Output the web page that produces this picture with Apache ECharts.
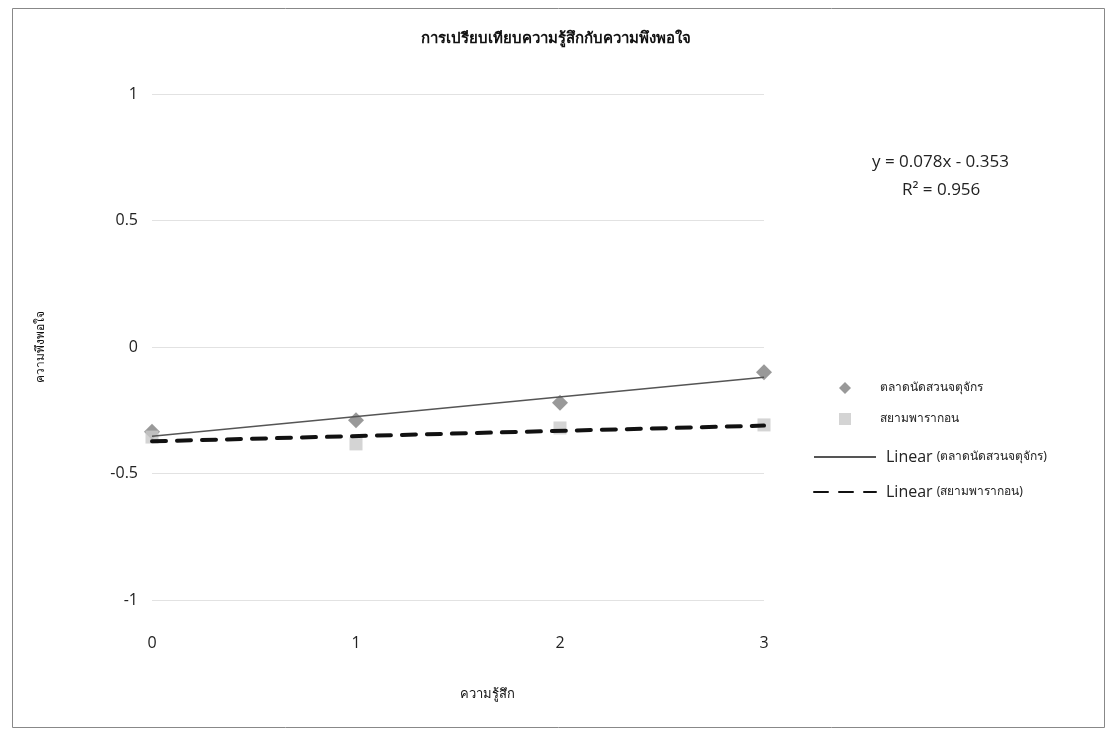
<!DOCTYPE html>
<html><head><meta charset="utf-8">
<script src="https://cdn.jsdelivr.net/npm/echarts@6/dist/echarts.min.js"></script>
<style>html,body{margin:0;padding:0;background:#fff}#c{width:1117px;height:736px}</style>
</head><body><div id="c"></div>
<script>
var xValues = [0, 1, 2, 3];
var chatuchakValues = [-0.335, -0.29, -0.22, -0.10];
var paragonValues = [-0.356, -0.383, -0.32, -0.308];
var yTicks = [-1, -0.5, 0, 0.5, 1];
var nameA = 'ตลาดนัดสวนจตุจักร';
var nameB = 'สยามพารากอน';
var titleText = 'การเปรียบเทียบความรู้สึกกับความพึงพอใจ';
var xName = 'ความรู้สึก';
var yName = 'ความพึงพอใจ';

function fit(xs, ys) {
  var n = xs.length, mx = 0, my = 0;
  for (var i = 0; i < n; i++) { mx += xs[i]; my += ys[i]; }
  mx /= n; my /= n;
  var sxy = 0, sxx = 0;
  for (var i = 0; i < n; i++) { sxy += (xs[i]-mx)*(ys[i]-my); sxx += (xs[i]-mx)*(xs[i]-mx); }
  var b = sxy / sxx, a = my - b*mx;
  return [[xs[0], a + b*xs[0]], [xs[n-1], a + b*xs[n-1]]];
}
function pairs(xs, ys) { return xs.map(function (x, i) { return [x, ys[i]]; }); }

var thai = '"Noto Sans", "DejaVu Sans", sans-serif';
var latin = '"Open Sans", "Noto Sans", sans-serif';

var chart = echarts.init(document.getElementById('c'));
chart.setOption({
  backgroundColor: '#fff',
  animation: false,
  title: {
    text: titleText, left: 551, top: 26, textAlign: 'center',
    textStyle: { fontSize: 15, fontWeight: 'bold', color: '#111', fontFamily: thai }
  },
  graphic: [
    { type: 'rect', shape: { x: 12.5, y: 8.5, width: 1092, height: 719 },
      style: { fill: 'none', stroke: '#888', lineWidth: 1 } },
    { type: 'text', left: 872, top: 154, style: { text: 'y = 0.078x - 0.353', fontSize: 17, fill: '#222', fontFamily: latin } },
    { type: 'text', left: 902, top: 182, style: { text: 'R² = 0.956', fontSize: 17, fill: '#222', fontFamily: latin } }
  ],
  legend: [
    {
      orient: 'vertical', left: 834, top: 377, itemWidth: 12, itemHeight: 12, itemGap: 19,
      data: [
        { name: nameA, icon: 'diamond' },
        { name: nameB, icon: 'rect' }
      ],
      textStyle: { fontSize: 12, color: '#222', fontFamily: thai, padding: [0, 0, 0, 24] }
    },
    {
      orient: 'vertical', left: 808, top: 444, itemWidth: 62, itemHeight: 14, itemGap: 19,
      data: ['Linear (' + nameA + ')', 'Linear (' + nameB + ')'],
      formatter: function (n) { return '{a|Linear }{b|' + n.slice(7) + '}'; },
      textStyle: {
        color: '#222', padding: [0, 0, 0, 5],
        rich: {
          a: { fontSize: 16, fontFamily: latin, color: '#222' },
          b: { fontSize: 12, fontFamily: thai, color: '#222' }
        }
      }
    }
  ],
  grid: { left: 152, top: 94, width: 612, height: 506, containLabel: false },
  xAxis: {
    type: 'value', min: 0, max: 3, interval: 1,
    name: xName, nameLocation: 'middle', nameGap: 88,
    nameTextStyle: { fontSize: 13, color: '#111', fontFamily: thai, padding: [0, 0, 0, 58] },
    axisLine: { show: false }, axisTick: { show: false }, splitLine: { show: false },
    axisLabel: { fontSize: 16, color: '#222', margin: 35, fontFamily: latin }
  },
  yAxis: {
    type: 'value', min: -1, max: 1, interval: 0.5,
    name: yName, nameLocation: 'middle', nameGap: 105, nameRotate: 90,
    nameTextStyle: { fontSize: 12, color: '#111', fontFamily: thai },
    axisLine: { show: false }, axisTick: { show: false },
    splitLine: { show: true, lineStyle: { color: '#e2e2e2', width: 1 } },
    axisLabel: { fontSize: 16, color: '#222', margin: 14, fontFamily: latin,
      customValues: yTicks }
  },
  series: [
    { name: nameA, type: 'scatter', symbol: 'diamond', symbolSize: 16,
      itemStyle: { color: '#7f7f7f' }, data: pairs(xValues, chatuchakValues), z: 3 },
    { name: nameB, type: 'scatter', symbol: 'rect', symbolSize: 13,
      itemStyle: { color: '#c9c9c9' }, data: pairs(xValues, paragonValues), z: 4 },
    { name: 'Linear (' + nameA + ')', type: 'line', symbol: 'none', silent: true,
      lineStyle: { color: '#555', width: 1.5 }, itemStyle: { color: 'rgba(0,0,0,0)', borderWidth: 0 },
      data: fit(xValues, chatuchakValues), z: 5 },
    { name: 'Linear (' + nameB + ')', type: 'line', symbol: 'none', silent: true,
      lineStyle: { color: '#111', width: 4, type: [14, 11], cap: 'round' }, itemStyle: { color: 'rgba(0,0,0,0)', borderWidth: 0 },
      data: fit(xValues, paragonValues), z: 6 }
  ]
});
</script></body></html>
